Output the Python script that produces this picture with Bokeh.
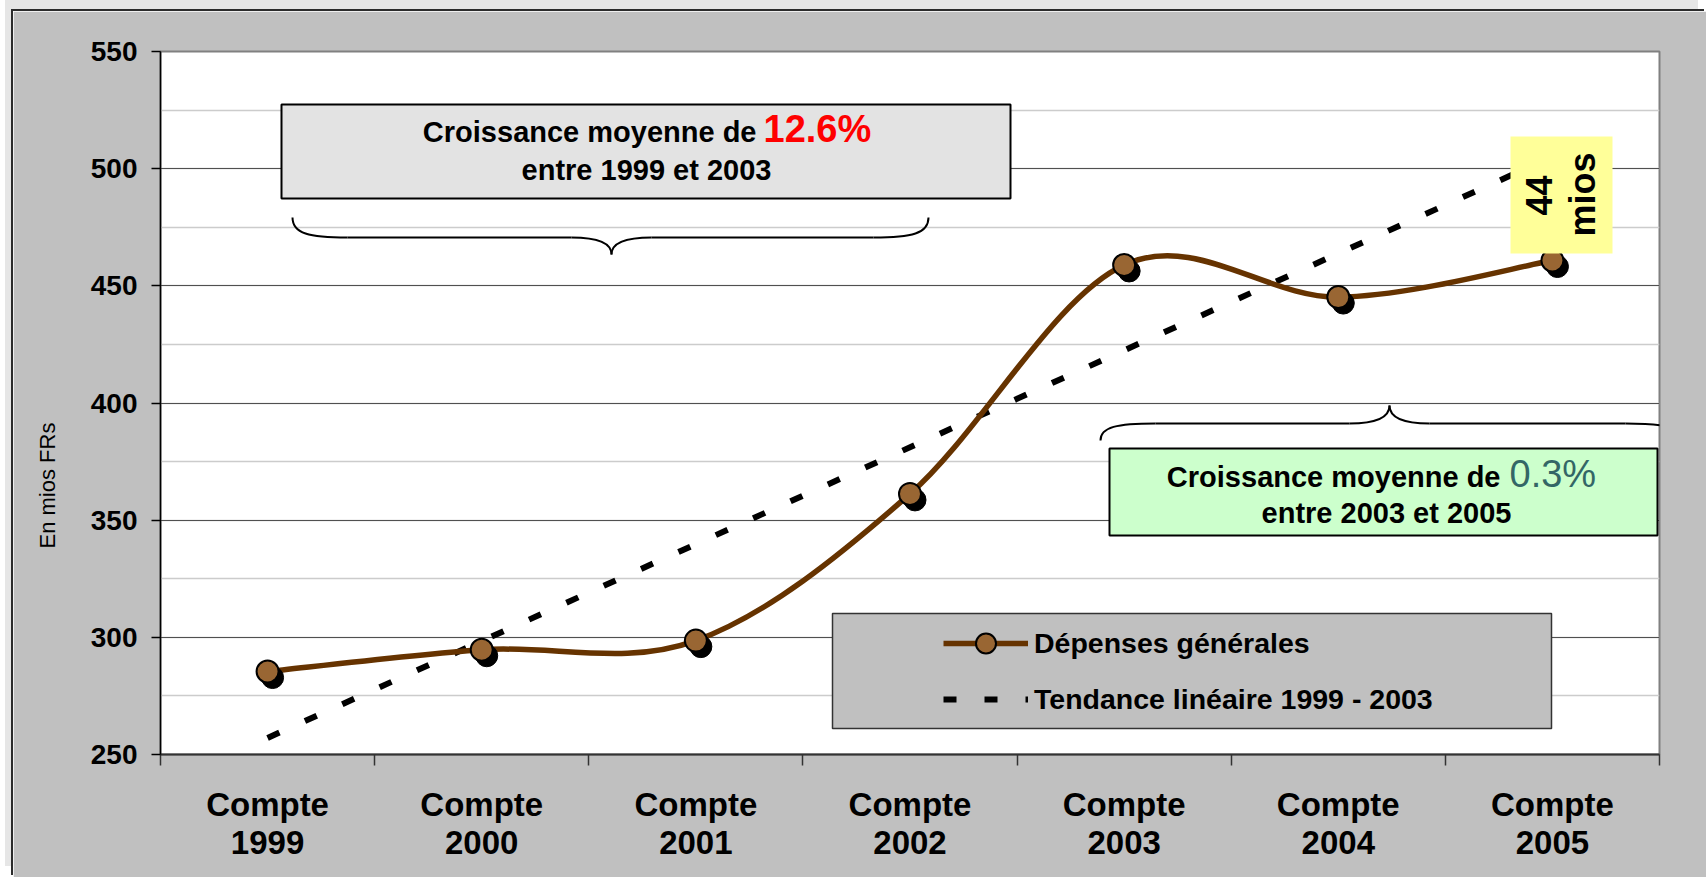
import numpy as np
from bokeh.plotting import figure
from bokeh.models import (FixedTicker, SingleIntervalTicker, Legend, LegendItem,
                          Range1d, ColumnDataSource, Title)
from bokeh.transform import dodge
from bokeh.core.properties import value
from bokeh.embed import file_html
from bokeh.resources import INLINE

# ---------------- data ----------------
categories = ["Compte\n1999", "Compte\n2000", "Compte\n2001", "Compte\n2002",
              "Compte\n2003", "Compte\n2004", "Compte\n2005"]
depenses = [285.4, 294.7, 298.6, 361.2, 458.9, 445.2, 460.8]
trend_n_points = 5            # linear trend fitted on 1999 - 2003
y_ticks = [250, 300, 350, 400, 450, 500, 550]
series_name = "Dépenses générales"
trend_name = "Tendance linéaire 1999 - 2003"
y_title = "En mios FRs"
box1_lines = ["Croissance moyenne de", "12.6%", "entre 1999 et 2003"]
box2_lines = ["Croissance moyenne de", "0.3%", "entre 2003 et 2005"]
gap_lines = ["44", "mios"]

FONT = "Liberation Sans"

# ---------------- geometry (page pixels) ----------------
OFFX, OFFY = 13, 11            # page offset of figure content (margin)
FL, FT, FR, FB = 160, 51, 1659, 754
W, H = 1706 - OFFX, 877 - OFFY
XMIN, XMAX = -0.5, len(categories) - 0.5
YMIN, YMAX = y_ticks[0], y_ticks[-1]


def xd(px):
    return XMIN + (px - FL) * (XMAX - XMIN) / (FR - FL)


def yd(py):
    return YMAX - (py - FT) * (YMAX - YMIN) / (FB - FT)


p = figure(width=W, height=H, output_backend="svg", toolbar_location=None,
           x_range=Range1d(XMIN, XMAX), y_range=Range1d(YMIN, YMAX),
           min_border_left=FL - OFFX, min_border_top=FT - OFFY,
           min_border_right=W - (FR - OFFX), min_border_bottom=H - (FB - OFFY),
           background_fill_color="white", border_fill_color="#c0c0c0")
p.margin = (OFFY, 0, 0, OFFX)
p.stylesheets = [":host { box-shadow: -2px -2px 0 0 #2b2b2b, -8px -11px 0 0 #e6e6e6; }"]
p.outline_line_color = "#808080"
p.outline_line_width = 2

# ---------------- axes ----------------
xs = list(range(len(categories)))
p.xaxis.ticker = FixedTicker(ticks=xs, minor_ticks=[i - 0.5 for i in range(len(categories) + 1)])
p.xaxis.major_label_overrides = {i: c for i, c in enumerate(categories)}
p.xaxis.major_tick_line_color = None
p.xaxis.major_tick_out = 0
p.xaxis.major_tick_in = 0
p.xaxis.minor_tick_line_color = "#333333"
p.xaxis.minor_tick_line_width = 1.5
p.xaxis.minor_tick_out = 11
p.xaxis.minor_tick_in = 0
p.xaxis.axis_line_color = "#333333"
p.xaxis.axis_line_width = 2
p.xaxis.major_label_text_font = FONT
p.xaxis.major_label_text_font_style = "bold"
p.xaxis.major_label_text_font_size = "33px"
p.xaxis.major_label_text_color = "black"
p.xaxis.major_label_text_line_height = 1.05
p.xaxis.major_label_standoff = 20
p.xgrid.grid_line_color = None

p.yaxis.ticker = SingleIntervalTicker(interval=50, num_minor_ticks=2)
p.yaxis.major_tick_out = 9
p.yaxis.major_tick_in = 0
p.yaxis.major_tick_line_color = "black"
p.yaxis.major_tick_line_width = 1.5
p.yaxis.minor_tick_line_color = None
p.yaxis.axis_line_color = "black"
p.yaxis.axis_line_width = 1.5
p.yaxis.major_label_text_font = FONT
p.yaxis.major_label_text_font_style = "bold"
p.yaxis.major_label_text_font_size = "28px"
p.yaxis.major_label_text_color = "black"
p.yaxis.major_label_standoff = 14
p.ygrid.grid_line_color = "#505050"
p.ygrid.grid_line_width = 1
p.ygrid.minor_grid_line_color = "#cccccc"
p.ygrid.minor_grid_line_width = 1.5

# ---------------- legend box background ----------------
p.quad(left=[xd(832)], right=[xd(1551)], top=[yd(613)], bottom=[yd(728)],
       fill_color="#c0c0c0", line_color="#333333", line_width=1.5)

# ---------------- linear trend ----------------
slope, intercept = np.polyfit(xs[:trend_n_points], depenses[:trend_n_points], 1)
tx = [xs[0], xs[-1]]
trend_r = p.line(x=tx, y=[intercept + slope * v for v in tx], line_color="black",
                 line_width=6, line_dash="13 28")

# ---------------- smoothed series (Excel style Bezier) ----------------
n = len(depenses)
P = [(float(x), float(y)) for x, y in zip(xs, depenses)]
bz = dict(x0=[], y0=[], x1=[], y1=[], cx0=[], cy0=[], cx1=[], cy1=[])
for i in range(n - 1):
    pm = P[max(i - 1, 0)]
    p0 = P[i]
    p1 = P[i + 1]
    p2 = P[min(i + 2, n - 1)]
    bz["x0"].append(p0[0]); bz["y0"].append(p0[1])
    bz["x1"].append(p1[0]); bz["y1"].append(p1[1])
    bz["cx0"].append(p0[0] + (p1[0] - pm[0]) / 6); bz["cy0"].append(p0[1] + (p1[1] - pm[1]) / 6)
    bz["cx1"].append(p1[0] - (p2[0] - p0[0]) / 6); bz["cy1"].append(p1[1] - (p2[1] - p0[1]) / 6)
curve_r = p.bezier(source=ColumnDataSource(bz), x0="x0", y0="y0", x1="x1", y1="y1",
                   cx0="cx0", cy0="cy0", cx1="cx1", cy1="cy1",
                   line_color="#663300", line_width=5.5)

src = ColumnDataSource(dict(x=xs, y=depenses))
px_x = (XMAX - XMIN) / (FR - FL)
px_y = (YMAX - YMIN) / (FB - FT)
p.scatter(x=dodge("x", 5 * px_x), y=dodge("y", -6 * px_y), source=src, size=22,
          fill_color="black", line_color="black")
marker_r = p.scatter(x="x", y="y", source=src, size=22, fill_color="#996633",
                     line_color="black", line_width=2)


# ---------------- text boxes ----------------
def txt(x, y_base, s, size, color="black", style="bold", align="center"):
    # y_base is the text baseline (page px); anchor at the middle of the line box
    p.text(x=[xd(x)], y=[yd(y_base - 0.35 * size)], text=[s], text_font=value(FONT),
           text_font_size=value(f"{size}px"), text_font_style=style, text_color=color,
           text_align=align, text_baseline="middle")


p.quad(left=[xd(281)], right=[xd(1010)], top=[yd(104)], bottom=[yd(198)],
       fill_color="#e3e3e3", line_color="black", line_width=2)
txt(756, 142, box1_lines[0], 29, align="right")
txt(763, 142, box1_lines[1], 38, color="#ff0000", align="left")
txt(646, 180, box1_lines[2], 29)

p.quad(left=[xd(1109)], right=[xd(1657)], top=[yd(448)], bottom=[yd(535)],
       fill_color="#ccffcc", line_color="black", line_width=2)
txt(1500, 487, box2_lines[0], 29, align="right")
txt(1509, 487, box2_lines[1], 38, color="#336666", style="normal", align="left")
txt(1386, 523, box2_lines[2], 29)

# yellow gap box
p.quad(left=[xd(1510)], right=[xd(1612)], top=[yd(136)], bottom=[yd(253)],
       fill_color="#ffff99", line_color=None)
p.text(x=[xd(1538), xd(1582)], y=[yd(195), yd(194)], text=gap_lines, angle=np.pi / 2,
       text_font=value(FONT), text_font_size=value("36px"), text_font_style="bold",
       text_color="black", text_align="center", text_baseline="middle")


# ---------------- braces ----------------
def brace(xa, xb, y_end, y_line, y_tip, x_tip):
    segs = []
    r, r2 = 55, 40
    segs.append(((xa, y_end), (xa, y_end + (y_line - y_end) * 0.8), (xa + r * 0.3, y_line), (xa + r, y_line)))
    segs.append(((xa + r, y_line), (xa + r, y_line), (x_tip - r2, y_line), (x_tip - r2, y_line)))
    segs.append(((x_tip - r2, y_line), (x_tip - r2 * 0.3, y_line), (x_tip, y_line + (y_tip - y_line) * 0.4), (x_tip, y_tip)))
    segs.append(((x_tip, y_tip), (x_tip, y_line + (y_tip - y_line) * 0.4), (x_tip + r2 * 0.3, y_line), (x_tip + r2, y_line)))
    segs.append(((x_tip + r2, y_line), (x_tip + r2, y_line), (xb - r, y_line), (xb - r, y_line)))
    segs.append(((xb - r, y_line), (xb - r * 0.3, y_line), (xb, y_end + (y_line - y_end) * 0.8), (xb, y_end)))
    d = dict(x0=[], y0=[], x1=[], y1=[], cx0=[], cy0=[], cx1=[], cy1=[])
    for a, c0, c1, b in segs:
        d["x0"].append(xd(a[0])); d["y0"].append(yd(a[1]))
        d["cx0"].append(xd(c0[0])); d["cy0"].append(yd(c0[1]))
        d["cx1"].append(xd(c1[0])); d["cy1"].append(yd(c1[1]))
        d["x1"].append(xd(b[0])); d["y1"].append(yd(b[1]))
    return d


for d in (brace(292, 928, 217, 237, 254, 611), brace(1100, 1680, 440, 423, 405, 1389)):
    p.bezier(source=ColumnDataSource(d), x0="x0", y0="y0", x1="x1", y1="y1",
             cx0="cx0", cy0="cy0", cx1="cx1", cy1="cy1", line_color="black", line_width=2)

# ---------------- y title (spacer panel, then the title) ----------------
p.add_layout(Title(text=" ", text_font=FONT, text_font_size="22px", standoff=0), "left")
p.add_layout(Title(text=y_title, align="left", offset=206, text_font=FONT,
                   text_font_size="22px", text_font_style="normal", text_color="black",
                   standoff=2), "left")

# ---------------- legend ----------------
legend = Legend(items=[LegendItem(label=series_name, renderers=[curve_r, marker_r]),
                       LegendItem(label=trend_name, renderers=[trend_r])],
                location=(943 - FL, FB - 728 + 4), orientation="vertical",
                glyph_width=85, glyph_height=50, label_height=50, spacing=6,
                padding=5, margin=0, label_standoff=6,
                background_fill_alpha=0, border_line_color=None,
                label_text_font=FONT, label_text_font_style="bold",
                label_text_font_size="28.5px", label_text_color="black")
p.add_layout(legend)

open("out.html", "w").write(file_html(p, INLINE))
